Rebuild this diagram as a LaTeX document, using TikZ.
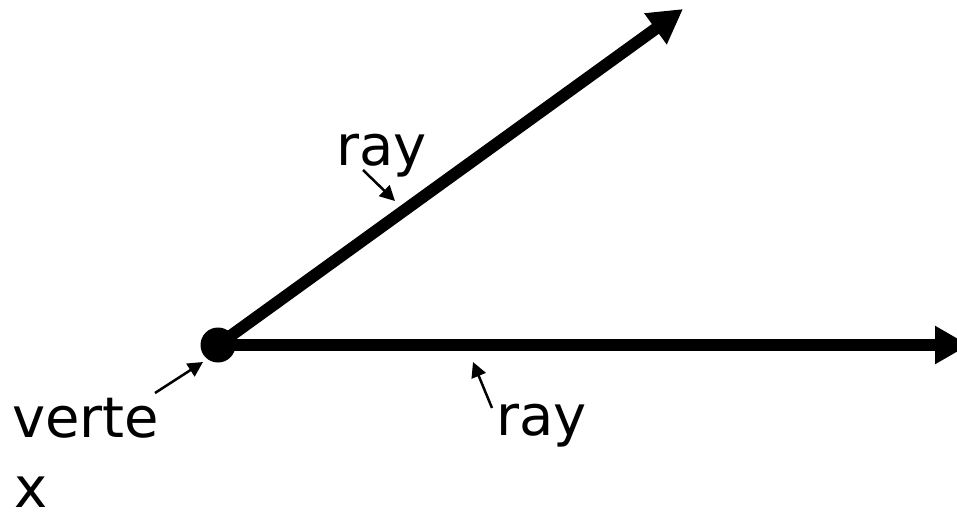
\documentclass[tikz,border=0pt]{standalone}
\usepackage{fontspec}
\setmainfont{DejaVu Sans}
\usetikzlibrary{arrows.meta}
\tikzset{
  bigray/.style={line width=12pt, -{Triangle[length=34pt,width=36pt]}},
  pointer/.style={line width=2.5pt, -{Triangle[length=15pt,width=15pt]}},
  lbl/.style={anchor=base west, inner sep=0pt, font=\fontsize{56pt}{66pt}\selectfont},
  vdot/.style={circle, fill=black, inner sep=0pt, minimum size=35pt}
}
\begin{document}
\begin{tikzpicture}[x=1pt,y=-1pt]
\useasboundingbox (0,0) rectangle (957,512);
\node[vdot] (v) at (218,345) {};
\coordinate (t1) at (683,9);
\coordinate (t2) at (969,345);
\draw[bigray] (v.center) -- (t1);
\draw[bigray] (v.center) -- (t2);
\node[lbl] (ray1) at (336,165) {ray};
\node[lbl] (ray2) at (496,435) {ray};
\node[lbl] (vtx1) at (12,437) {verte};
\node[lbl] (vtx2) at (14,507) {x};
\coordinate (p1s) at (363,170);
\coordinate (p1e) at (395,201);
\coordinate (p2s) at (492,408);
\coordinate (p2e) at (473,362);
\coordinate (p3s) at (155,393);
\coordinate (p3e) at (203,362);
\draw[pointer] (p1s) -- (p1e);
\draw[pointer] (p2s) -- (p2e);
\draw[pointer] (p3s) -- (p3e);
\end{tikzpicture}
\end{document}
